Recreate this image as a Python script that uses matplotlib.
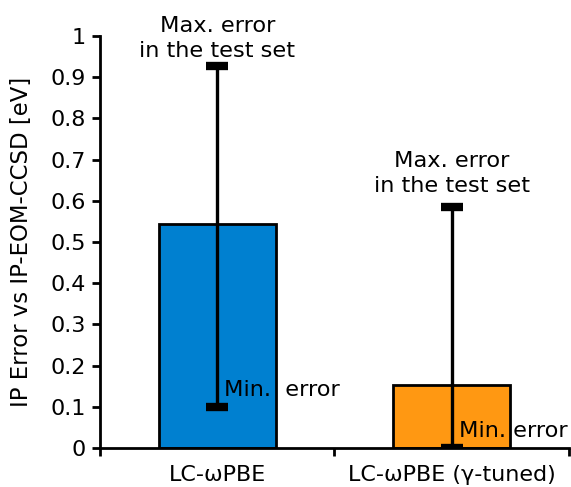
import matplotlib
matplotlib.use("Agg")
import matplotlib.pyplot as plt
import numpy as np

methods = ["LC-ωPBE", "LC-ωPBE (γ-tuned)"]
mean_err = [0.544, 0.152]
min_err = [0.10, 0.0]
max_err = [0.927, 0.584]
colors = ["#0080d0", "#ff9812"]

plt.rcParams['font.family'] = 'DejaVu Sans'
plt.rcParams['font.size'] = 16

fig = plt.figure(figsize=(5.71, 4.87), dpi=100)
ax = fig.add_axes([0.175, 0.080, 0.8215, 0.846])

x = np.array([0.5, 1.5])
mean = np.array(mean_err)
lo = mean - np.array(min_err)
hi = np.array(max_err) - mean

ax.bar(x, mean, width=0.5, color=colors, edgecolor="black", linewidth=2, zorder=2)
ax.errorbar(x, mean, yerr=[lo, hi], fmt="none", ecolor="black",
            elinewidth=2.4, capsize=8, capthick=6, zorder=3)

# annotation of the spread; first label sits closer to its cap to stay on the page
max_txt = "Max. error\nin the test set"
ax.text(x[0], max_err[0] + 0.022, max_txt, ha="center", va="baseline",
        fontsize=16.2, linespacing=1.3)
ax.text(x[1], max_err[1] + 0.037, max_txt, ha="center", va="baseline",
        fontsize=16.2, linespacing=1.3)
ax.text(x[0] + 0.03, min_err[0] + 0.027, "Min.  error", ha="left", va="baseline",
        fontsize=16.2)
ax.text(x[1] + 0.03, min_err[1] + 0.027, "Min. error", ha="left", va="baseline",
        fontsize=16.2)

ax.set_xlim(0, 2)
ax.set_ylim(0, 1)
ax.set_yticks(np.arange(0, 1.01, 0.1))
ax.set_yticklabels(["0"] + [f"{v:.1f}" for v in np.arange(0.1, 0.95, 0.1)] + ["1"])
ax.set_xticks([0, 1, 2])
ax.set_xticklabels([])
ax.set_xticks(x, minor=True)
ax.set_xticklabels(methods, minor=True)
ax.tick_params(axis="x", which="minor", length=0, pad=12)
ax.tick_params(axis="both", which="major", width=2, length=6, pad=4)

for side in ["top", "right"]:
    ax.spines[side].set_visible(False)
for side in ["left", "bottom"]:
    ax.spines[side].set_linewidth(2)

ax.set_ylabel("IP Error vs IP-EOM-CCSD [eV]", fontsize=16.4, va="center")
ax.yaxis.set_label_coords(-0.168, 0.5)

fig.savefig("out.png", dpi=100)
